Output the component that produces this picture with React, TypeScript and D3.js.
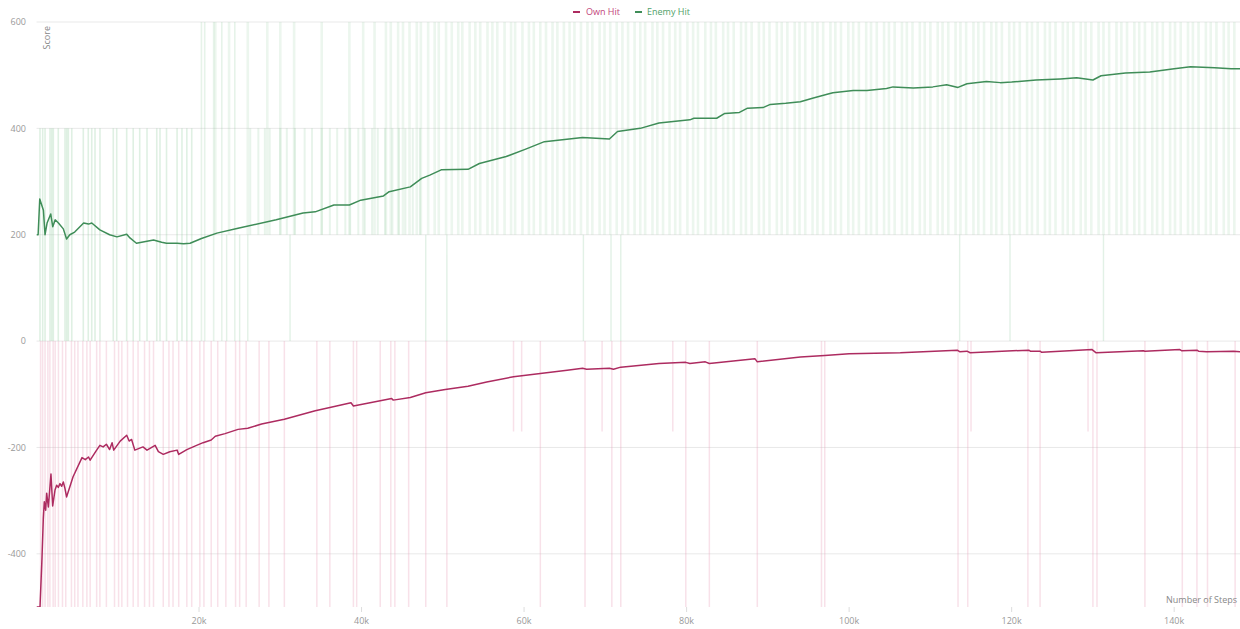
import React from "react";
import * as d3 from "d3";

const W = 1240;
const H = 629;

// ---- axes ----
const xDomainMax = 148100;
const yDomain: [number, number] = [-500, 600];
const yTicks = [600, 400, 200, 0, -200, -400];
const xTicks = [20000, 40000, 60000, 80000, 100000, 120000, 140000];
const xTickLabels = ["20k", "40k", "60k", "80k", "100k", "120k", "140k"];
const seriesNames = ["Own Hit", "Enemy Hit"];

// ---- smoothed series (steps in thousands) ----
const ownSteps = [
  0, 0.43, 0.68, 0.84, 0.96, 1.13, 1.25, 1.46, 1.78, 1.99, 2.28, 2.48, 2.68, 2.89, 3.1, 3.3, 3.5, 3.7,
  4.5, 5.6, 6.0, 6.4, 6.6, 7.4, 7.8, 8.2, 8.6, 9.0, 9.3, 9.5, 10.3, 11.1, 11.4, 11.7, 12.1, 13.1, 13.6,
  14.6, 15.0, 15.6, 16.4, 17.3, 17.5, 18.5, 19.7, 20.5, 21.5, 22.0, 23.2, 24.8, 26.0, 27.7, 30.5, 34.3,
  36.1, 38.7, 39.0, 42.3, 43.7, 43.9, 46.0, 47.9, 50.3, 53.1, 55.4, 58.7, 62.0, 65.3, 67.2, 67.7, 70.5,
  71.0, 71.9, 76.6, 79.9, 80.4, 82.3, 82.8, 88.4, 88.7, 94.0, 97.0, 100.0, 106.3, 113.3, 113.6, 114.5,
  114.9, 122.1, 122.3, 123.5, 123.7, 129.9, 130.4, 136.2, 136.4, 140.7, 140.9, 142.8, 143.0, 144.0,
  147.3, 148.1,
];
const ownValues = [
  -500, -500, -406, -333, -302, -318, -286, -312, -250, -310, -280, -271, -275, -268, -273, -265, -277, -293,
  -255, -219, -223, -218, -224, -205, -196, -199, -194, -204, -191, -205, -188, -177, -188, -185, -205, -199, -205,
  -196, -208, -213, -208, -205, -213, -204, -196, -191, -186, -179, -174, -166, -164, -156, -147, -131,
  -125, -116, -122, -112, -108, -111, -106, -97, -91, -85, -77, -67, -61, -55, -51, -53, -51,
  -53, -49, -42, -40, -42, -39, -42, -33, -39, -30, -27, -24, -22, -17, -20, -19,
  -22, -17, -19, -19, -21, -16, -22, -18, -19, -16, -18, -17, -19, -20,
  -19, -20,
];

const enemySteps = [
  0, 0.2, 0.4, 0.85, 1.05, 1.3, 1.75, 2.0, 2.3, 2.7, 3.3, 3.7, 4.1, 4.7, 5.8, 6.4, 6.8, 7.8, 9.0, 9.9,
  11.1, 11.5, 12.3, 14.4, 15.4, 16.0, 17.3, 18.1, 18.9, 20.3, 22.2, 24.8, 29.5, 32.8, 34.3, 36.6, 38.5,
  39.9, 42.7, 43.4, 46.0, 47.4, 48.4, 49.8, 53.1, 54.5, 57.8, 60.2, 62.5, 67.2, 70.5, 71.5, 74.3, 76.6,
  80.4, 80.9, 83.7, 84.7, 86.5, 87.5, 89.4, 90.3, 92.2, 94.0, 95.6, 97.3, 98.0, 100.5, 102.2, 104.6,
  105.4, 107.9, 110.3, 112.0, 113.4, 114.5, 116.9, 118.6, 120, 123, 126, 128, 130, 131, 134, 137, 140,
  142, 145, 147, 148.1,
];
const enemyValues = [
  200, 200, 267, 246, 200, 222, 239, 215, 228, 222, 211, 192, 200, 205, 222, 220, 222, 209, 200, 196,
  201, 194, 184, 190, 186, 184, 184, 183, 184, 193, 203, 212, 228, 241, 243, 256, 256,
  265, 273, 281, 290, 306, 312, 322, 323, 334, 347, 361, 375, 383, 380, 394, 400, 410,
  416, 419, 419, 428, 430, 438, 439, 445, 447, 450, 457, 464, 467, 471, 471, 475,
  478, 476, 478, 482, 477, 484, 488, 486, 487, 491, 493, 495, 491, 499, 504, 506, 512,
  516, 514, 512, 512,
];

// ---- raw (unsmoothed) episode spikes, steps in thousands ----
const enemyRaw0to400 = [
  0.43, 0.76, 1.05, 1.66, 1.87, 2.07, 2.68, 3.51, 3.72, 3.92, 4.34, 5.76, 6.37, 6.8, 7.2, 7.81, 9.45,
  9.87, 11.1, 11.9, 12.7, 13.6, 14.8, 15.2, 16.0, 17.3, 17.9, 18.5, 19.1,
];
const enemyRaw0to600 = [20.3, 20.7, 21.8, 22.8, 24.4];
const enemyRaw0to200 = [23.4, 25.0, 26.0, 31.2, 47.9, 50.5, 67.3, 70.7, 71.9, 113.6, 119.8, 131.3];
const enemyRaw200to400 = [
  26.3, 27.3, 28.1, 28.7, 30.0, 30.8, 31.8, 33.0, 33.9, 35.1, 36.1, 37.0, 38.0, 38.6, 39.6, 40.4, 41.3,
  42.0, 42.9, 43.8, 44.6, 45.4, 46.3, 47.2,
];
const enemyRaw200to600 = [
  22.0, 23.7, 26.0, 28.4, 30.0, 31.7, 35.1, 38.5, 40.2, 41.6,
  43.0, 43.6, 44.5, 45.1, 45.9, 46.8, 47.3, 48.2, 49.0, 49.5, 50.4, 51.1, 51.9, 52.4, 53.3, 54.0, 54.6,
  55.5, 56.1, 56.7, 57.6, 58.4, 58.9, 59.8, 60.6, 61.2, 62.0, 62.7, 63.5, 64.1, 64.9, 65.6, 66.2, 67.0,
  67.8, 68.4, 69.3, 69.9, 70.6, 71.4, 72.1, 72.8, 73.6, 74.3, 74.9, 75.8, 76.4, 77.1, 77.9, 78.6, 79.2,
  80.1, 80.8, 81.4, 82.3, 83.0, 83.6, 84.5, 85.1, 85.8, 86.7, 87.3, 88.0, 88.9, 89.5, 90.2, 91.1, 91.7,
  92.4, 93.3, 93.9, 94.6, 95.5, 96.1, 96.8, 97.7, 98.3, 99.0, 99.9, 100.5, 101.2, 102.1, 102.7, 103.4,
  104.3, 104.9, 105.6, 106.5, 107.1, 107.8, 108.7, 109.3, 110.0, 110.9, 111.5, 112.2, 113.1, 113.7,
  114.4, 115.3, 115.9, 116.6, 117.5, 118.1, 118.8, 119.7, 120.3, 121.0, 121.9, 122.5, 123.2, 124.1,
  124.7, 125.4, 126.3, 126.9, 127.6, 128.5, 129.1, 129.8, 130.7, 131.3, 132.0, 132.9, 133.5, 134.2,
  135.1, 135.7, 136.4, 137.3, 137.9, 138.6, 139.5, 140.1, 140.8, 141.7, 142.3, 143.0, 143.9, 144.5,
  145.2, 146.1, 146.7, 147.4,
];
const ownRaw0toFloor = [
  0.5, 0.75, 1.05, 1.4, 1.65, 2.05, 2.3, 2.7, 3.2, 3.6, 4.3, 4.7, 5.1, 5.7, 6.2, 6.6, 7.4, 7.8, 8.6, 9.6,
  10.1, 10.5, 11.2, 11.9, 12.5, 13.3, 13.9, 14.4, 15.6, 16.3, 16.8, 17.5, 18.5, 19.1, 20.1, 20.6, 21.5,
  22.3, 23.3, 24.5, 25.0, 25.8, 27.4, 28.6, 30.5, 34.5, 36.1, 39.0, 39.4, 42.3, 43.6, 44.1, 45.8, 47.9,
  50.5, 62.0, 67.5, 70.8, 71.9, 79.9, 82.8, 88.7, 96.6, 97.0, 113.4, 114.6, 122.0, 123.5, 130.0, 130.5,
  136.4, 141.0, 142.8, 144.1, 147.5,
];
const ownRaw0to170 = [58.7, 59.7, 69.6, 78.3, 115.0, 129.4];

const OWN_COLOR = "#ad2b60";
const ENEMY_COLOR = "#3f8d58";
const FONT = "'Open Sans', 'Liberation Sans', sans-serif";

export default function App() {
  const K = 1000;
  const x = d3.scaleLinear().domain([0, xDomainMax]).range([36.5, W]);
  const y = d3.scaleLinear().domain(yDomain).range([607, 22]);
  const [plotL, plotR] = x.range();
  const [plotB, plotT] = y.range();

  const line = d3
    .line<[number, number]>()
    .x((d) => x(d[0] * K))
    .y((d) => y(d[1]));

  const ownData = ownSteps.map((s, i) => [s, ownValues[i]] as [number, number]);
  const enemyData = enemySteps.map((s, i) => [s, enemyValues[i]] as [number, number]);

  const spikes = (steps: number[], lo: number, hi: number) => {
    const p = d3.path();
    steps.forEach((s) => {
      const px = x(s * K);
      p.moveTo(px, y(lo));
      p.lineTo(px, y(hi));
    });
    return p.toString();
  };

  return (
    <svg
      width={W}
      height={H}
      style={{ position: "absolute", left: 0, top: 0, background: "#fff" }}
      fontFamily={FONT}
    >
      <defs>
        <clipPath id="plot">
          <rect x={plotL} y={plotT} width={plotR - plotL} height={plotB - plotT} />
        </clipPath>
      </defs>

      {/* grid */}
      {yTicks.map((t) => (
        <line key={t} x1={plotL} x2={plotR} y1={y(t)} y2={y(t)} stroke="#e9e9e9" strokeWidth={1} />
      ))}

      <g clipPath="url(#plot)">
        {/* raw enemy */}
        <g stroke="#8cc89c" fill="none">
          <path d={spikes(enemyRaw0to400, 0, 400)} strokeOpacity={0.28} strokeWidth={1.6} />
          <path d={spikes(enemyRaw0to600, 0, 600)} strokeOpacity={0.22} strokeWidth={1.6} />
          <path d={spikes(enemyRaw0to200, 0, 200)} strokeOpacity={0.25} strokeWidth={1.4} />
          <path d={spikes(enemyRaw200to400, 200, 400)} strokeOpacity={0.2} strokeWidth={2} />
          <path d={spikes(enemyRaw200to600, 200, 600)} strokeOpacity={0.17} strokeWidth={2.6} />
        </g>
        {/* raw own */}
        <g stroke="#e9a3bb" fill="none">
          <path d={spikes(ownRaw0toFloor, 0, -520)} strokeOpacity={0.32} strokeWidth={1.5} />
          <path d={spikes(ownRaw0to170, 0, -170)} strokeOpacity={0.32} strokeWidth={1.5} />
        </g>

        <path d={line(enemyData) ?? ""} fill="none" stroke={ENEMY_COLOR} strokeWidth={1.5} strokeLinejoin="round" />
        <path d={line(ownData) ?? ""} fill="none" stroke={OWN_COLOR} strokeWidth={1.5} strokeLinejoin="round" />
      </g>

      {/* y axis labels */}
      {yTicks.map((t) => (
        <text key={t} x={26} y={y(t)} dy="0.35em" textAnchor="end" fontSize={9} fill="#999">
          {String(t)}
        </text>
      ))}
      <text transform={`translate(49.5, 26) rotate(-90)`} textAnchor="end" fontSize={9} fill="#888">
        Score
      </text>

      {/* x axis */}
      {xTicks.map((t, i) => (
        <g key={t}>
          <line x1={x(t)} x2={x(t)} y1={plotB} y2={plotB + 5} stroke="#ddd" />
          <text x={x(t)} y={624} textAnchor="middle" fontSize={9} fill="#999">
            {xTickLabels[i]}
          </text>
        </g>
      ))}
      <text x={1237} y={603} textAnchor="end" fontSize={9} fill="#888">
        Number of Steps
      </text>

      {/* legend */}
      <g fontSize={9}>
        <line x1={573} x2={580} y1={12} y2={12} stroke={OWN_COLOR} strokeWidth={2} />
        <text x={586} y={15} fill="#c2457a">{seriesNames[0]}</text>
        <line x1={635} x2={642} y1={12} y2={12} stroke={ENEMY_COLOR} strokeWidth={2} />
        <text x={647} y={15} fill="#4f9f68">{seriesNames[1]}</text>
      </g>
    </svg>
  );
}
